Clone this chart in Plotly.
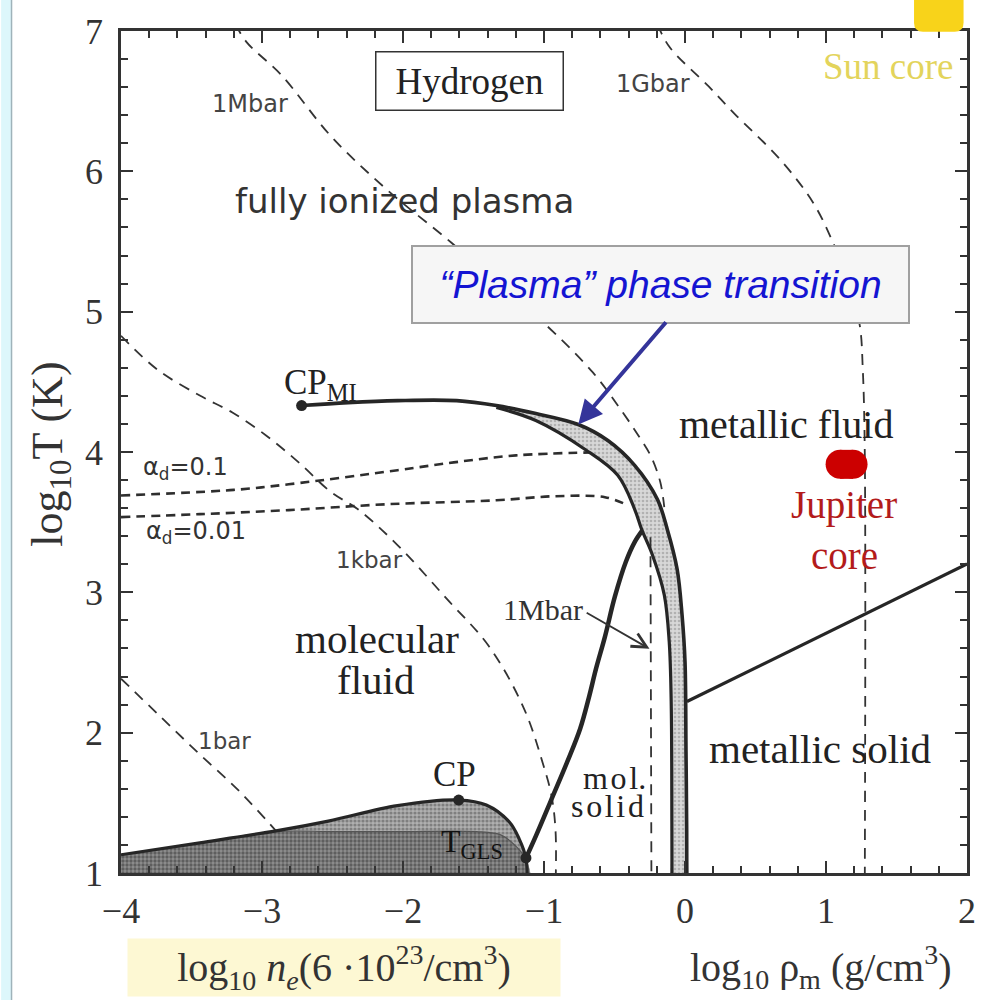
import plotly.graph_objects as go

# ---------------- data ----------------
x_ticks = [-4, -3, -2, -1, 0, 1, 2]
y_ticks = [1, 2, 3, 4, 5, 6, 7]
x_range = [-4, 2]
y_range = [1, 7]

# "plasma" phase transition: outer (upper/right) branch starting at CP_MI
pt_outer_x = [-2.719, -2.39, -2.039, -1.619, -1.338, -1.058, -0.757, -0.547, -0.357, -0.196, -0.126, -0.056, -0.021, 0.0, 0.007, 0.012, 0.014]
pt_outer_y = [4.331, 4.352, 4.366, 4.366, 4.331, 4.274, 4.196, 4.082, 3.905, 3.663, 3.45, 3.166, 2.839, 2.506, 1.866, 1.3, 0.3]
# inner (lower/left) branch of the band
pt_inner_x = [-1.338, -1.058, -0.708, -0.477, -0.357, -0.308, -0.231, -0.147, -0.112, -0.098, -0.093, -0.091]
pt_inner_y = [4.317, 4.224, 4.018, 3.834, 3.592, 3.45, 3.266, 2.982, 2.648, 2.222, 1.3, 0.3]

# molecular melting line (T_GLS -> band)
melt_x = [-1.128, -1.058, -0.953, -0.834, -0.743, -0.68, -0.631, -0.568, -0.498, -0.42, -0.357, -0.301]
melt_y = [1.107, 1.263, 1.511, 1.795, 2.03, 2.257, 2.456, 2.683, 2.967, 3.216, 3.358, 3.443]

# metallic fluid / metallic solid boundary
msolid_x = [0.014, 2.0]
msolid_y = [2.222, 3.202]

# liquid-gas coexistence dome
dome_x = [-4.0, -3.441, -2.901, -2.53, -2.039, -1.605, -1.409, -1.247, -1.177, -1.128, -1.12]
dome_y = [1.13, 1.215, 1.30, 1.37, 1.48, 1.52, 1.485, 1.365, 1.245, 1.105, 0.9]
dome_inner_x = [-4.0, -3.441, -2.901, -2.5, -2.039, -1.479, -1.303, -1.198, -1.128, -1.12]
dome_inner_y = [1.13, 1.215, 1.295, 1.295, 1.295, 1.295, 1.27, 1.19, 1.105, 0.9]

# isobars
bar1_x = [-4.0, -3.721, -3.441, -3.16, -2.901]
bar1_y = [2.385, 2.115, 1.845, 1.582, 1.30]
kbar_x = [-4.0, -3.742, -3.441, -3.21, -2.971, -2.74, -2.509, -2.32, -2.039, -1.689, -1.388, -1.142, -1.002, -0.946, -0.918, -0.918]
kbar_y = [4.828, 4.587, 4.402, 4.281, 4.118, 3.926, 3.713, 3.592, 3.337, 2.953, 2.612, 2.172, 1.76, 1.547, 1.298, 0.9]
mbar_x = [-3.189, -3.111, -2.859, -2.509, -2.109, -1.654, -1.338, -1.002, -0.652, -0.441, -0.322, -0.238, -0.175, -0.147]
mbar_y = [7.05, 6.923, 6.682, 6.248, 5.865, 5.489, 5.205, 4.92, 4.565, 4.281, 4.104, 3.962, 3.784, 3.607]
mbar_vert_x = [-0.245, -0.238]
mbar_vert_y = [3.393, 0.9]
gbar_x = [-0.196, -0.112, 0.168, 0.35, 0.68, 0.911, 1.051, 1.17, 1.24, 1.261, 1.275, 1.275]
gbar_y = [7.05, 6.889, 6.605, 6.412, 6.078, 5.773, 5.489, 5.183, 4.899, 4.587, 3.997, 0.9]

# degree of dissociation lines
alpha01_x = [-4.0, -3.2, -2.81, -2.039, -1.64, -1.198, -0.673]
alpha01_y = [3.69, 3.73, 3.77, 3.87, 3.926, 3.976, 3.997]
alpha001_x = [-4.0, -3.441, -2.81, -2.109, -1.338, -0.918, -0.568, -0.406]
alpha001_y = [3.536, 3.557, 3.586, 3.628, 3.656, 3.685, 3.678, 3.621]

# special points
cp_x, cp_y = [-1.605], [1.52]
cpmi_x, cpmi_y = [-2.719], [4.331]
tgls_x, tgls_y = [-1.128], [1.107]
jupiter_x = [1.10, 1.192]
jupiter_y = [3.912, 3.912]
sun_x, sun_y = 1.80, 7.172   # centre of the (clipped) Sun-core blob above the frame

# ---------------- figure ----------------
INK = "#262626"
DASHC = "#333333"
SERIF = "Liberation Serif"
SANS = "DejaVu Sans"
W, H = 988, 1000
ML, MR, MT, MB = 121, 13, 27, 127
PW, PH = W - ML - MR, H - MT - MB

fig = go.Figure()

def add_line(x, y, width, color=INK, dash=None, shape="spline"):
    ln = dict(width=width, color=color, shape=shape)
    if dash:
        ln["dash"] = dash
    fig.add_trace(go.Scatter(x=x, y=y, mode="lines", line=ln, hoverinfo="skip"))

# dome fills
fig.add_trace(go.Scatter(
    x=dome_x + [dome_x[0]], y=dome_y + [dome_y[-1]], mode="lines", fill="toself",
    fillcolor="#a9a9a9", line=dict(width=0, shape="spline"),
    fillpattern=dict(shape=".", bgcolor="#b0b0b0", fgcolor="#4e4e4e", size=4, solidity=0.5),
    hoverinfo="skip"))
fig.add_trace(go.Scatter(
    x=dome_inner_x + [dome_inner_x[0]], y=dome_inner_y + [dome_inner_y[-1]], mode="lines", fill="toself",
    fillcolor="#888888", line=dict(width=0, shape="spline"),
    fillpattern=dict(shape=".", bgcolor="#8f8f8f", fgcolor="#2e2e2e", size=4, solidity=0.55),
    hoverinfo="skip"))

# band fill between the two transition branches
k = pt_outer_x.index(pt_inner_x[0])
band_x = pt_outer_x[k:] + pt_inner_x[::-1]
band_y = pt_outer_y[k:] + pt_inner_y[::-1]
fig.add_trace(go.Scatter(
    x=band_x, y=band_y, mode="lines", fill="toself", fillcolor="#d2d2d2",
    line=dict(width=0, shape="spline"),
    fillpattern=dict(shape=".", bgcolor="#d8d8d8", fgcolor="#8a8a8a", size=4, solidity=0.35),
    hoverinfo="skip"))

# isobars (dashed)
iso_dash = "11px,8px"
add_line(bar1_x, bar1_y, 1.8, DASHC, iso_dash)
add_line(kbar_x, kbar_y, 1.8, DASHC, iso_dash)
add_line(mbar_x, mbar_y, 1.8, DASHC, iso_dash)
add_line(mbar_vert_x, mbar_vert_y, 1.8, DASHC, iso_dash, "linear")
add_line(gbar_x, gbar_y, 1.8, DASHC, iso_dash)

# dissociation lines
add_line(alpha01_x, alpha01_y, 2.6, "#2e2e2e", "9px,6px")
add_line(alpha001_x, alpha001_y, 2.6, "#2e2e2e", "9px,6px")

# solid phase boundaries
add_line(dome_inner_x[:-1], dome_inner_y[:-1], 1.2, "#555555")
add_line(dome_x, dome_y, 3.2)
add_line(pt_outer_x, pt_outer_y, 3.6)
add_line(pt_inner_x, pt_inner_y, 3.2)
add_line(melt_x, melt_y, 4.5)
add_line(msolid_x, msolid_y, 3.2, shape="linear")

# points
fig.add_trace(go.Scatter(x=cp_x + cpmi_x + tgls_x, y=cp_y + cpmi_y + tgls_y, mode="markers",
                         marker=dict(size=11, color=INK), hoverinfo="skip"))
fig.add_trace(go.Scatter(x=jupiter_x, y=jupiter_y, mode="lines+markers",
                         line=dict(width=29, color="#cc0000"),
                         marker=dict(size=29, color="#cc0000", symbol="circle"),
                         hoverinfo="skip"))

# Sun-core blob lies above the frame: rounded square in paper units from its data centre
sx = (sun_x - x_range[0]) / (x_range[1] - x_range[0])
sy = (sun_y - y_range[0]) / (y_range[1] - y_range[0])
hx, hy = 25 / PW, 25 / PH
rx, ry = 9 / PW, 9 / PH
x0, x1, y0, y1 = sx - hx, sx + hx, sy - hy, sy + hy
sun_path = (f"M{x0+rx},{y0} L{x1-rx},{y0} Q{x1},{y0} {x1},{y0+ry} L{x1},{y1-ry} Q{x1},{y1} {x1-rx},{y1} "
            f"L{x0+rx},{y1} Q{x0},{y1} {x0},{y1-ry} L{x0},{y0+ry} Q{x0},{y0} {x0+rx},{y0} Z")
fig.add_shape(type="path", xref="paper", yref="paper", path=sun_path,
              fillcolor="#f8d31a", line=dict(width=0), layer="above")

def txt(x, y, text, size, family=SERIF, color="#222222", **kw):
    fig.add_annotation(x=x, y=y, xref="x", yref="y", text=text, showarrow=False,
                       xanchor="center", yanchor="middle",
                       font=dict(family=family, size=size, color=color), **kw)

txt(-1.528, 6.641, "Hydrogen", 37, bordercolor="#333333", borderwidth=1.5,
    bgcolor="white", width=186, height=57, borderpad=0)
txt(-3.083, 6.483, "1Mbar", 24, SANS, "#444444")
txt(-0.224, 6.625, "1Gbar", 24, SANS, "#444444")
txt(1.444, 6.746, "Sun core", 37, SERIF, "#e3d45c")
txt(-1.99, 5.787, "fully ionized plasma", 34, SANS, "#333333")
txt(-0.172, 5.194, "<i>\u201cPlasma\u201d phase transition</i>", 39,
    "Liberation Sans", "#1414d2",
    bordercolor="#a0a0a0", borderwidth=2, bgcolor="#f6f6f6", width=495, height=75, borderpad=0)
fig.add_annotation(x=-0.757, y=4.196, ax=-0.126, ay=4.935, xref="x", yref="y", axref="x", ayref="y",
                   text="", showarrow=True, arrowcolor="#34349a", arrowwidth=4, arrowhead=2,
                   arrowsize=1.2, standoff=0)
txt(-2.586, 4.48, "CP<sub>MI</sub>", 35)
txt(0.715, 4.196, "metallic fluid", 40)
txt(1.128, 3.621, "Jupiter", 39, SERIF, "#b31b1b")
txt(1.128, 3.266, "core", 39, SERIF, "#b31b1b")
txt(-3.546, 3.884, "\u03b1<sub>d</sub>=0.1", 24, SANS, "#333333")
txt(-3.469, 3.429, "\u03b1<sub>d</sub>=0.01", 24, SANS, "#333333")
txt(-2.235, 3.23, "1kbar", 23, SANS, "#444444")
txt(-1.009, 2.875, "1Mbar", 30, SERIF, "#333333")
fig.add_annotation(x=-0.252, y=2.598, ax=-0.708, ay=2.861, xref="x", yref="y", axref="x", ayref="y",
                   text="", showarrow=True, arrowcolor="#333333", arrowwidth=1.8, arrowhead=5,
                   arrowsize=1.6, standoff=0)
txt(-2.186, 2.669, "molecular", 41)
txt(-2.193, 2.378, "fluid", 41)
txt(-3.266, 1.938, "1bar", 23, SANS, "#444444")
txt(-1.633, 1.703, "CP", 35)
txt(-1.514, 1.213, "T<sub>GLS</sub>", 32, SERIF, "#111111")
txt(-0.498, 1.675, "m\u200ao\u200al.", 32)
txt(-0.547, 1.476, "s\u200ao\u200al\u200ai\u200ad", 32)
txt(0.96, 1.881, "metallic solid", 41)

# axis titles
def ptxt(px, py, text, size, **kw):
    fig.add_annotation(xref="paper", yref="paper", x=(px - ML) / PW, y=(H - MB - py) / PH,
                       xanchor="center", yanchor="middle", showarrow=False, text=text,
                       font=dict(family=SERIF, size=size, color="#333333"), **kw)

ptxt(50, 452, "log<sub>10</sub>T (K)", 44, textangle=-90)
ptxt(346, 968, "log<sub>10</sub> <i>n<sub>e</sub></i>(6 \u00b710<sup>23</sup>/cm<sup>3</sup>)", 40,
     bgcolor="#fdf8d3", width=432, height=57, borderpad=0)
ptxt(828, 967, "log<sub>10</sub> \u03c1<sub>m</sub> (g/cm<sup>3</sup>)", 40)

# light-blue page strip on the left
fig.add_shape(type="rect", xref="paper", yref="paper", x0=(0 - ML) / PW, x1=(10 - ML) / PW, y0=-0.2, y1=1.1,
              fillcolor="#ddf7fb", line=dict(width=0))
fig.add_shape(type="line", xref="paper", yref="paper", x0=(10.5 - ML) / PW, x1=(10.5 - ML) / PW, y0=-0.2, y1=1.1,
              line=dict(width=1.5, color="#9fb3ba"))

axis_common = dict(
    showgrid=False, zeroline=False, showline=True, linewidth=2.5, linecolor="#333333",
    mirror="allticks", ticks="inside", ticklen=12, tickwidth=2, tickcolor="#333333",
    tickfont=dict(family=SERIF, size=36, color="#333333"),
    minor=dict(ticks="inside", ticklen=7, tickwidth=1.5, tickcolor="#333333", dtick=0.2, showgrid=False),
)
fig.update_xaxes(range=x_range, tickvals=x_ticks, ticklabelstandoff=4, **axis_common)
fig.update_yaxes(range=y_range, tickvals=y_ticks, ticklabelstandoff=8, **axis_common)

fig.update_layout(
    width=W, height=H, showlegend=False,
    margin=dict(l=ML, r=MR, t=MT, b=MB),
    paper_bgcolor="white", plot_bgcolor="white",
)

fig.write_html("out.html")
